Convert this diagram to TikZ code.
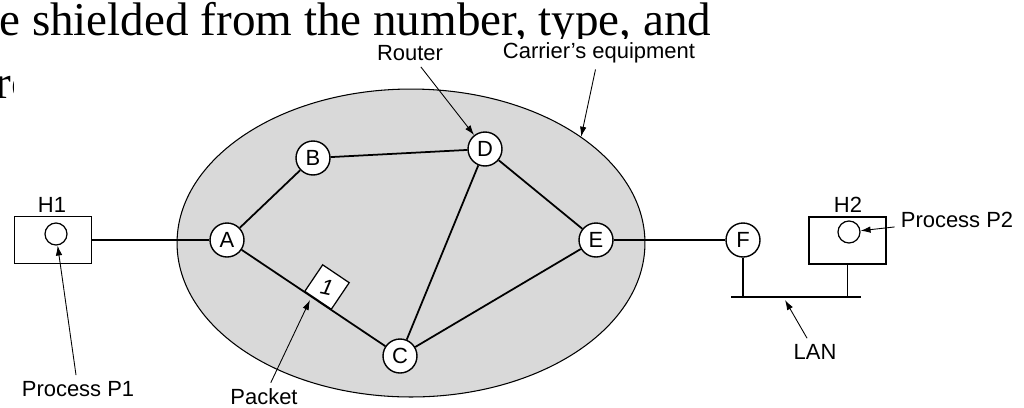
\documentclass[tikz,border=0pt]{standalone}
\usepackage{fontspec}
\setmainfont{Liberation Sans}
\newfontfamily\slidefont{Liberation Serif}
\usetikzlibrary{positioning, shapes.geometric, arrows.meta}
\tikzset{>={Latex[length=2mm,width=1.3mm]}}
\tikzset{
    router/.style = {circle, draw, line width=0.8pt, fill=white, minimum size=0.68cm, inner sep=0pt},
    host/.style = {rectangle, draw, line width=0.7pt, minimum width=1.54cm, minimum height=0.94cm},
    process/.style = {circle, draw, line width=0.7pt, minimum size=0.44cm, inner sep=0pt},
    packet/.style = {rectangle, draw, line width=0.7pt, fill=white, minimum size=0.64cm, inner sep=0pt},
    carrier/.style = {ellipse, draw, line width=0.6pt, fill=black!15, minimum width=9.36cm,
                        minimum height=6.16cm, inner sep=0pt},
    link/.style = {line width=1pt},
    callout/.style = {->, line width=0.5pt},
    slide/.style = {anchor=base west, inner sep=0pt, font=\slidefont\fontsize{26.8}{32}\selectfont}
}

\begin{document}
\begin{tikzpicture}[x=0.02cm, y=-0.02cm]
			\tikzstyle{every node}=[font=\fontsize{12.5}{15}\selectfont]
			\useasboundingbox (0,0) rectangle (1024,407);
			% slide text partly hidden behind the figure
			\begin{scope}
				\clip (-5,-5) -- (1030,-5) -- (1030,38) -- (13,38) -- (13,410) -- (-5,410) -- cycle;
				\node (line1) [slide] at (-1,35) {e shielded from the number, type, and};
				\node (line2) [slide] at (-5,98) {ro};
			\end{scope}
			% carrier's network
			\node (net) [carrier] at (411,243) {};
			\node (A) [router] at (227,240) {A};
			\node (B) [router] at (313,158) {B};
			\node (D) [router] at (485,149) {D};
			\node (E) [router] at (596,240) {E};
			\node (C) [router] at (400,356) {C};
			\node (F) [router] at (743,240) {F};
			% hosts
			\node (H1) [host] at (53,240) {};
			\node (P1) [process] at (56,234) {};
			\node (h1lab) at (52,205) {H1};
			\node (H2) [host] at (847.5,240.5) {};
			\node (P2) [process] at (849,232) {};
			\node (h2lab) at (848,205) {H2};
			% links
			\draw [link] (H1) -- (A);
			\draw [link] (A) -- (B);
			\draw [link] (B) -- (D);
			\draw [link] (D) -- (E);
			\draw [link] (D) -- (C);
			\draw [link] (A) -- (C);
			\draw [link] (C) -- (E);
			\draw [link] (E) -- (F);
			\node (pkt) [packet, rotate=-34] at (327,287) {\rotatebox{22}{\itshape 1}};
			% LAN
			\coordinate (lanL) at (731,297);
			\coordinate (lanR) at (861,297);
			\draw [link] (lanL) -- (lanR);
			\draw [link] (F) -- (F |- lanL);
			\draw [link] (H2) -- (H2 |- lanL);
			% labels
			\node (routerlab) at (410,53) {Router};
			\node (carrlab) at (599,53) {Carrier's equipment};
			\node (p1lab) at (78,389) {Process P1};
			\node (pktlab) at (264,397) {Packet};
			\node (lanlab) at (815,352) {LAN};
			\node (p2lab) at (957,220) {Process P2};
			\coordinate (pkthit) at (310,300);
			\coordinate (lanhit) at (785,300);
			\draw [callout] (routerlab) -- (D);
			\draw [callout] (carrlab) -- (net.32);
			\draw [callout] (p1lab) -- (P1);
			\draw [callout] (pktlab) -- (pkthit);
			\draw [callout] (lanlab) -- (lanhit);
			\draw [callout] (p2lab) -- (P2);
		\end{tikzpicture}
\end{document}
